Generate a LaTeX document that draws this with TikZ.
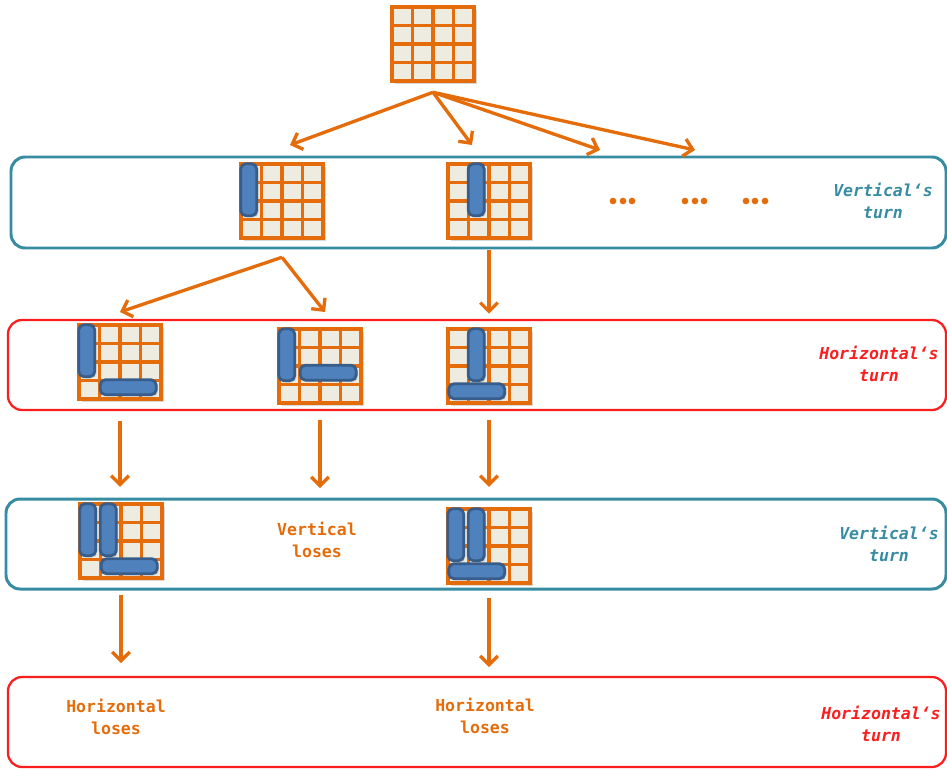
\documentclass[tikz,border=0pt]{standalone}
\usepackage{fontspec}
\newfontfamily\boardfont{DejaVu Sans Mono}
\usetikzlibrary{arrows.meta,calc,shadows}
\definecolor{brd}{RGB}{228,108,10}
\definecolor{cell}{RGB}{238,236,225}
\definecolor{pc}{RGB}{79,129,189}
\definecolor{pcedge}{RGB}{56,93,138}
\definecolor{tl}{RGB}{55,140,162}
\definecolor{rd}{RGB}{250,30,30}
\tikzset{
board/.style={draw=brd, line width=2.6pt, fill=cell, inner sep=0pt,
  minimum width=1.64cm, minimum height=1.48cm,
  drop shadow={shadow xshift=1.8pt, shadow yshift=-1.8pt, opacity=.3},
  path picture={\foreach \i in {1,2,3}{
    \draw[brd,line width=2.2pt] (path picture bounding box.south west) ++(\i*0.41cm,0) -- ++(0,1.48cm);
    \draw[brd,line width=2.2pt] (path picture bounding box.south west) ++(0,\i*0.37cm) -- ++(1.64cm,0);}}},
piece/.style={fill=pc, draw=pcedge, line width=1.6pt, rounded corners=3pt,
  drop shadow={shadow xshift=1pt, shadow yshift=-1pt, opacity=.3}},
vband/.style={draw=tl, line width=1.7pt, rounded corners=8pt},
hband/.style={draw=rd, line width=1.3pt, rounded corners=8pt},
arr/.style={draw=brd, line width=1.9pt, -{Straight Barb[length=5pt,width=10pt]}},
lab/.style={font=\boardfont\bfseries\fontsize{9.4}{12.5}\selectfont, align=center},
loss/.style={lab, text=brd},
turnv/.style={lab, text=tl, font=\boardfont\bfseries\itshape\fontsize{9.4}{12.5}\selectfont},
turnh/.style={turnv, text=rd}
}
% vertical piece in column #2, horizontal piece from column #2 in row #3
\newcommand\vp[2]{\draw[piece] ($(#1.north west)+(#2*20.5+2,2)$) rectangle ++(16,52);}
\newcommand\hp[3]{\draw[piece] ($(#1.north west)+(#2*20.5+3,#3*18.5+1.5)$) rectangle ++(56,15);}
\begin{document}
\begin{tikzpicture}[x=0.02cm,y=-0.02cm]
\useasboundingbox (0,0) rectangle (947,768);
\draw[vband] (11,157) rectangle (946,248);
\draw[hband] (8,320) rectangle (946,410);
\draw[vband] (6,499) rectangle (946,589);
\draw[hband] (8,677) rectangle (946,767);

\node[board] (b0) at (433,44) {};
\node[board] (b1) at (282,201) {};
\node[board] (b2) at (489,201) {};
\node[board] (b3) at (120,362) {};
\node[board] (b4) at (320,366) {};
\node[board] (b5) at (489,366) {};
\node[board] (b6) at (121,541) {};
\node[board] (b7) at (489,546) {};
\vp{b1}{0} \vp{b2}{1}
\vp{b3}{0} \hp{b3}{1}{3}
\vp{b4}{0} \hp{b4}{1}{2}
\vp{b5}{1} \hp{b5}{0}{3}
\vp{b6}{0} \vp{b6}{1} \hp{b6}{1}{3}
\vp{b7}{0} \vp{b7}{1} \hp{b7}{0}{3}

\foreach \x in {613,623,632,685,695,704,746,755,765}
  \fill[brd] (\x,201) circle[radius=1.9pt];

\node[turnv] (l1) at (883,201) {Vertical‘s\\turn};
\node[turnh] (l2) at (879,364) {Horizontal‘s\\turn};
\node[turnv] (l3) at (889,544) {Vertical‘s\\turn};
\node[turnh] (l4) at (881,724) {Horizontal‘s\\turn};
\node[loss] (vl) at (317,540) {Vertical\\loses};
\node[loss] (hl1) at (116,717) {Horizontal\\loses};
\node[loss] (hl2) at (485,716) {Horizontal\\loses};

\coordinate (c1) at (290,145);
\coordinate (c2) at (472,145);
\coordinate (c3) at (600,150);
\coordinate (c4) at (695,150);
\coordinate (d1) at (120,312);
\coordinate (d2) at (325,312);
\coordinate (e1) at (320,488);
\coordinate (e2) at (120,663);
\coordinate (e3) at (489,667);
\foreach \c in {c1,c2,c3,c4}
  \draw[arr] ($(b0.south)+(0,9)$) -- (\c);
\draw[arr] ($(b1.south)+(0,17)$) -- (d1);
\draw[arr] ($(b1.south)+(0,17)$) -- (d2);
\draw[arr, shorten <=5.7pt, shorten >=7.4pt] (b2.south) -- (b5.north);
\draw[arr, shorten <=11pt, shorten >=8.5pt] (b3.south) -- (b3.south |- b6.north);
\draw[arr, shorten <=8.5pt] (b4.south) -- (e1);
\draw[arr, shorten <=8.5pt, shorten >=11.3pt] (b5.south) -- (b7.north);
\draw[arr, shorten <=8.5pt] (b6.south) -- (b6.south |- e2);
\draw[arr, shorten <=7.4pt] (b7.south) -- (e3);
\end{tikzpicture}
\end{document}
